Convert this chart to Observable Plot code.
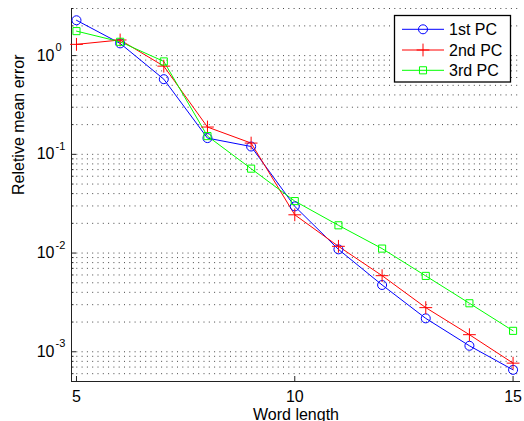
<!DOCTYPE html>
<html>
<head>
<meta charset="utf-8">
<script src="https://cdn.jsdelivr.net/npm/d3@7"></script>
<script src="https://cdn.jsdelivr.net/npm/@observablehq/plot@0.6"></script>
<style>
  html, body { margin: 0; padding: 0; background: #fff; }
  #chart { width: 524px; height: 421px; }
</style>
</head>
<body>
<div id="chart"></div>
<script>
// Relative mean error of the first three principal components vs. word length
const wordLength = [5, 6, 7, 8, 9, 10, 11, 12, 13, 14, 15];
const pc1 = [2.28, 1.33, 0.577, 0.146, 0.120, 0.0297, 0.0109, 0.00475, 0.00218, 0.00115, 0.000656];
const pc2 = [1.30, 1.44, 0.782, 0.189, 0.130, 0.0244, 0.0117, 0.0059, 0.0028, 0.00149, 0.000767];
const pc3 = [1.77, 1.38, 0.873, 0.153, 0.0716, 0.0336, 0.0191, 0.0111, 0.00587, 0.0031, 0.00163];

const seriesNames = ["1st PC", "2nd PC", "3rd PC"];
const seriesColors = ["#0000ff", "#ff0000", "#00ff00"];
const seriesSymbols = ["circle", "plus", "square"];
const seriesRadius = [4.5, 4.2, 4];

const xTicks = [5, 10, 15];
const yMajor = [1e-3, 1e-2, 1e-1, 1];
const yExponents = ["-3", "-2", "-1", "0"];
const xDomain = [4.886, 15.17];
const yDomain = [5e-4, 3];
const xLabel = "Word length";
const yLabel = "Reletive mean error";

// minor log grid: 2..9 within each decade, clipped to the y domain
const yGrid = [];
for (let e = -4; e <= 0; e++) {
  for (let m = 1; m <= 9; m++) {
    const v = m * Math.pow(10, e);
    if (v >= yDomain[0] - 1e-12 && v <= yDomain[1] + 1e-12) yGrid.push(+v.toPrecision(3));
  }
}
const yMinor = yGrid.filter(v => !yMajor.includes(v));

const seriesValues = [pc1, pc2, pc3];
const rows = seriesNames.flatMap((name, s) =>
  wordLength.map((x, i) => ({series: name, x, y: seriesValues[s][i]}))
);

const font = "'Liberation Sans', Arial, Helvetica, sans-serif";

const plot = Plot.plot({
  width: 524,
  height: 421,
  marginLeft: 71,
  marginRight: 4,
  marginTop: 8,
  marginBottom: 40,
  style: {fontFamily: font, fontSize: "16px", background: "#fff", color: "#000"},
  x: {domain: xDomain, label: null},
  y: {type: "log", domain: yDomain, label: null},
  marks: [
    // dotted grid at every decade and sub-decade level
    Plot.gridY(yGrid, {stroke: "#333", strokeOpacity: 0.9, strokeWidth: 1, strokeDasharray: "1 4.3"}),
    // left and bottom axis lines
    Plot.ruleX([xDomain[0]], {stroke: "#222", strokeWidth: 1}),
    Plot.ruleY([yDomain[0]], {stroke: "#222", strokeWidth: 1}),
    // inward ticks
    Plot.axisY(yMinor, {tickSize: -2.5, fill: "none", stroke: "#222", label: null}),
    Plot.axisY(yMajor, {tickSize: -5, fill: "none", stroke: "#222", label: null}),
    Plot.axisX(xTicks, {tickSize: -5, fill: "none", stroke: "#222", label: null}),
    // tick labels: base "10" with superscript exponent
    Plot.axisY(yMajor, {tickSize: 0, tickPadding: 17, tickFormat: () => "10", fontSize: 16, label: null}),
    Plot.text(yMajor, {y: d => d, text: (d, i) => yExponents[i], frameAnchor: "left",
      dx: -16, dy: -8, textAnchor: "start", fontSize: 11}),
    Plot.axisX(xTicks, {tickSize: 0, tickPadding: 9, tickFormat: d => String(d), fontSize: 16, label: null}),
    // axis titles
    Plot.text([xLabel], {frameAnchor: "bottom", dy: 38, lineAnchor: "bottom", fontSize: 16, text: d => d}),
    Plot.text([yLabel], {frameAnchor: "left", dx: -53, rotate: -90, fontSize: 16, text: d => d}),
    // series lines and markers
    ...seriesNames.map((name, s) =>
      Plot.line(rows.filter(d => d.series === name), {x: "x", y: "y", stroke: seriesColors[s], strokeWidth: 1})
    ),
    ...seriesNames.map((name, s) =>
      Plot.dot(rows.filter(d => d.series === name), {x: "x", y: "y", stroke: seriesColors[s],
        symbol: seriesSymbols[s], r: seriesRadius[s], strokeWidth: 1, fill: "none"})
    )
  ]
});

document.getElementById("chart").appendChild(plot);

// legend box in the upper right corner of the axes
const svg = d3.select(plot);
const legend = svg.append("g")
  .attr("font-family", font).attr("font-size", 16).attr("text-anchor", "start");
legend.append("rect")
  .attr("x", 394.5).attr("y", 15.5).attr("width", 116).attr("height", 66.5)
  .attr("fill", "#fff").attr("stroke", "#000").attr("stroke-width", 1.3);
const entryY = [29.3, 50, 70.3];
seriesNames.forEach((name, s) => {
  const g = legend.append("g").attr("transform", `translate(0,${entryY[s]})`);
  g.append("line").attr("x1", 402).attr("x2", 444).attr("y1", 0).attr("y2", 0)
    .attr("stroke", seriesColors[s]).attr("stroke-width", 1);
  const sym = {circle: d3.symbolCircle, plus: d3.symbolPlus, square: d3.symbolSquare}[seriesSymbols[s]];
  g.append("path")
    .attr("transform", "translate(423,0)")
    .attr("d", d3.symbol(sym, Math.PI * seriesRadius[s] * seriesRadius[s])())
    .attr("fill", "none").attr("stroke", seriesColors[s]).attr("stroke-width", 1);
  g.append("text").attr("x", 449).attr("y", 0).attr("dy", "0.35em")
    .attr("text-anchor", "start").attr("fill", "#000").text(name);
});
</script>
</body>
</html>
